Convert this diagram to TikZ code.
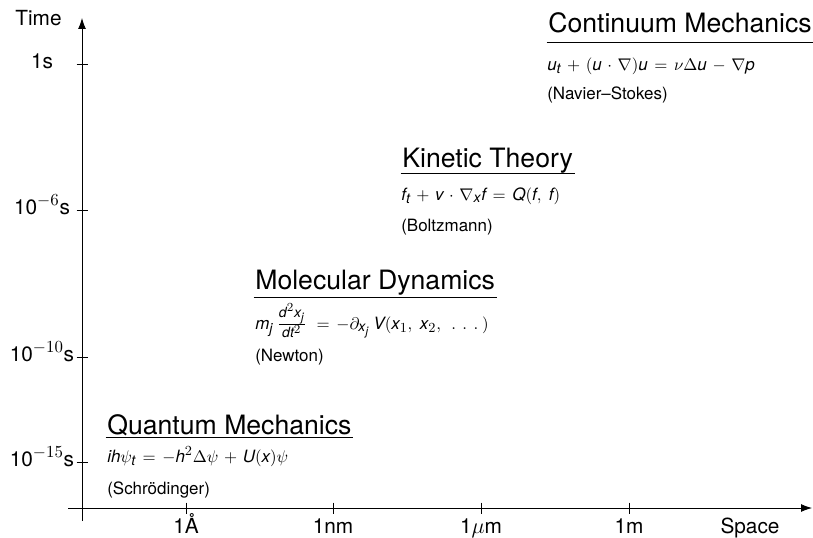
\documentclass[tikz,border=0pt]{standalone}
\usepackage{fontspec}
\setmainfont{TeX Gyre Heros}
\usepackage[italic,basic]{mathastext}
\usetikzlibrary{arrows.meta}
\newcommand{\rulebelow}[2]{\draw[uline] ([yshift=-#2]#1.base west) -- ([yshift=-#2]#1.base east);}
\newcommand{\widemath}{\thinmuskip=4mu\medmuskip=6mu\thickmuskip=7mu}
\tikzset{
  axis/.style={line width=0.5pt, -{Latex[length=7pt,width=5pt]}},
  tickmark/.style={line width=0.5pt},
  ticklbl/.style={font=\fontsize{13.5}{16}\selectfont, inner sep=0pt},
  title/.style={font=\fontsize{17.28}{20}\selectfont, anchor=base west, inner xsep=1pt, inner ysep=0pt},
  eqn/.style={font=\fontsize{11}{13}\selectfont\widemath, anchor=base west, inner sep=0pt},
  who/.style={font=\fontsize{11}{13}\selectfont, anchor=base west, inner sep=0pt},
  uline/.style={line width=0.6pt},
}

\begin{document}
\begin{tikzpicture}[x=0.649pt, y=-0.649pt]
\useasboundingbox (0,0) rectangle (813,538);
% axes
\coordinate (xstart) at (68,508);
\coordinate (xend) at (812,508);
\coordinate (ystart) at (82,521);
\coordinate (yend) at (82,18);
\draw[axis] (xstart) -- (xend);
\draw[axis] (ystart) -- (yend);
\node[ticklbl] (time) at (38.5,18.5) {Time};
\node[ticklbl, anchor=base] (space) at (750,533) {Space};
\foreach \x/\lbl [count=\i] in {186/{1\AA}, 333/{1nm}, 481/{1$\mu$m}, 629/{1m}} {
  \draw[tickmark] (\x,502.5) -- (\x,513.5);
  \node[ticklbl, anchor=base] (xl\i) at (\x,533) {\lbl};
}
\foreach \y/\lbl [count=\i] in {64/{1s}, 210/{10$^{-6}$s}, 357/{10$^{-10}$s}, 462/{10$^{-15}$s}} {
  \draw[tickmark] (76.5,\y) -- (87.5,\y);
  \node[ticklbl, anchor=mid] (yl\i) at (42,\y) {\lbl};
}

% continuum mechanics
\node[title] (cmT) at (546.5,32) {Continuum Mechanics};
\rulebelow{cmT}{7pt}
\node[eqn] (cmE) at (547,70) {$u_t + (u\cdot\nabla)u = \nu\Delta u - \nabla p$};
\node[who] (cmW) at (547,99) {(Navier--Stokes)};

% kinetic theory
\node[title] (ktT) at (400.5,167) {Kinetic Theory};
\rulebelow{ktT}{4.5pt}
\node[eqn] (ktE) at (401,200) {$f_t + v\cdot\nabla_x f = Q(f,\,f)$};
\node[who] (ktW) at (401,231) {(Boltzmann)};

% molecular dynamics
\node[title] (mdT) at (253.5,289) {Molecular Dynamics};
\rulebelow{mdT}{5.2pt}
\node[eqn] (mdE) at (255,329) {$m_j\,\frac{d^2x_j}{dt^2}\, = -\partial_{x_j}\,V(x_1,\,x_2,\;.\;.\;.\,)$};
\node[who] (mdW) at (255,361) {(Newton)};

% quantum mechanics
\node[title] (qmT) at (105.5,434) {Quantum Mechanics};
\rulebelow{qmT}{2pt}
\node[eqn] (qmE) at (107,462) {$ih\psi_t = -h^2\Delta\psi + U(x)\psi$};
\node[who] (qmW) at (107,494) {(Schrödinger)};
\end{tikzpicture}
\end{document}
